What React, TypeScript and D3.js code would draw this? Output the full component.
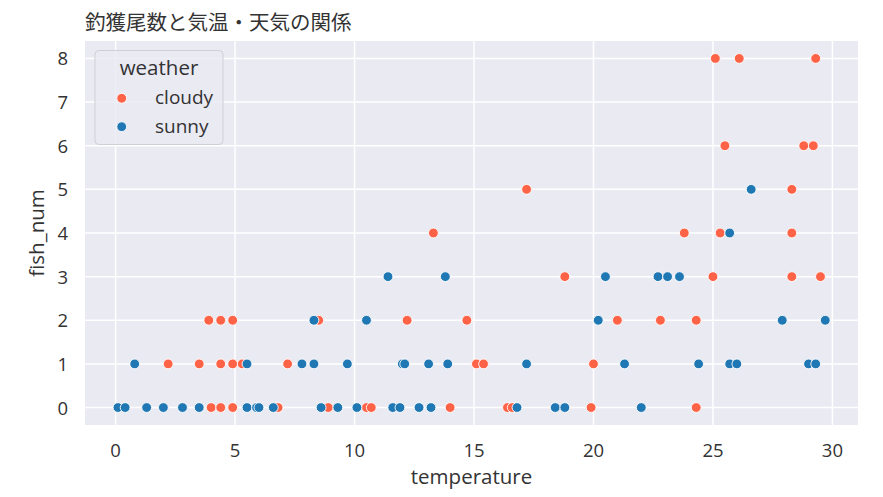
import * as d3 from 'd3';
import React, { useEffect, useRef } from 'react';

// values
const cloudyTemp = [
  25.1, 26.1, 29.3,
  25.5, 28.8, 29.2,
  17.2, 28.3,
  13.3, 23.8, 25.3, 28.3,
  18.8, 25.0, 28.3, 29.5,
  3.9, 4.4, 4.9, 8.5, 12.2, 14.7, 21.0, 22.8, 24.3,
  2.2, 3.5, 4.4, 4.9, 5.3, 7.2, 15.1, 15.4, 20.0,
  4.0, 4.4, 4.9, 6.8, 8.9, 10.5, 10.7, 14.0, 16.4, 16.6, 19.9, 24.3,
];
const cloudyFish = [
  8, 8, 8,
  6, 6, 6,
  5, 5,
  4, 4, 4, 4,
  3, 3, 3, 3,
  2, 2, 2, 2, 2, 2, 2, 2, 2,
  1, 1, 1, 1, 1, 1, 1, 1, 1,
  0, 0, 0, 0, 0, 0, 0, 0, 0, 0, 0, 0,
];
const sunnyTemp = [
  26.6,
  25.7,
  11.4, 13.8, 20.5, 22.7, 23.1, 23.6,
  8.3, 10.5, 20.2, 27.9, 29.7,
  0.8, 5.5, 7.8, 8.3, 9.7, 12.0, 12.1, 13.1, 13.9, 17.2, 21.3, 24.4, 25.7, 26.0, 29.0, 29.3,
  0.1, 0.4, 1.3, 2.0, 2.8, 3.5, 5.5, 5.9, 6.0, 6.6, 8.6, 9.3, 10.1, 11.6, 11.9, 12.7, 13.2, 16.8, 18.4, 18.8, 22.0,
];
const sunnyFish = [
  5,
  4,
  3, 3, 3, 3, 3, 3,
  2, 2, 2, 2, 2,
  1, 1, 1, 1, 1, 1, 1, 1, 1, 1, 1, 1, 1, 1, 1, 1,
  0, 0, 0, 0, 0, 0, 0, 0, 0, 0, 0, 0, 0, 0, 0, 0, 0, 0, 0, 0, 0,
];

const weatherNames = ['cloudy', 'sunny'];
const xTicks = [0, 5, 10, 15, 20, 25, 30];
const yTicks = [0, 1, 2, 3, 4, 5, 6, 7, 8];

export default function App() {
  const svgRef = useRef<SVGSVGElement | null>(null);

  const width = 883;
  const height = 497;
  const plotLeft = 85;
  const plotRight = 858;
  const plotTop = 41;
  const plotBottom = 425;
  const latin = "'Open Sans', 'DejaVu Sans', sans-serif";
  const textColor = '#333333';

  useEffect(() => {
    const x = d3.scaleLinear().domain([-1.28, 31.07]).range([plotLeft, plotRight]);
    const y = d3.scaleLinear().domain([-0.4, 8.4]).range([plotBottom, plotTop]);
    const color = d3.scaleOrdinal<string, string>()
      .domain(weatherNames)
      .range(['#ff6347', '#1f77b4']);

    const svg = d3.select(svgRef.current)
      .attr('width', width)
      .attr('height', height)
      .attr('viewBox', `0 0 ${width} ${height}`);

    svg.selectAll('*').remove();

    // axes background
    svg.append('rect')
      .attr('x', plotLeft)
      .attr('y', plotTop)
      .attr('width', plotRight - plotLeft)
      .attr('height', plotBottom - plotTop)
      .attr('fill', '#eaeaf2');

    // grid
    svg.append('g')
      .selectAll('line')
      .data(xTicks)
      .join('line')
      .attr('x1', d => x(d)).attr('x2', d => x(d))
      .attr('y1', plotTop).attr('y2', plotBottom)
      .attr('stroke', '#ffffff').attr('stroke-width', 1.5);

    svg.append('g')
      .selectAll('line')
      .data(yTicks)
      .join('line')
      .attr('x1', plotLeft).attr('x2', plotRight)
      .attr('y1', d => y(d)).attr('y2', d => y(d))
      .attr('stroke', '#ffffff').attr('stroke-width', 1.5);

    // tick labels
    svg.append('g')
      .selectAll('text')
      .data(xTicks)
      .join('text')
      .attr('x', d => x(d))
      .attr('y', 457)
      .attr('text-anchor', 'middle')
      .attr('font-family', latin)
      .attr('font-size', 18.5)
      .attr('fill', textColor)
      .text(d => d);

    svg.append('g')
      .selectAll('text')
      .data(yTicks)
      .join('text')
      .attr('x', 68)
      .attr('y', d => y(d) + 7)
      .attr('text-anchor', 'end')
      .attr('font-family', latin)
      .attr('font-size', 18.5)
      .attr('fill', textColor)
      .text(d => d);

    // axis labels and title
    svg.append('text')
      .attr('x', (plotLeft + plotRight) / 2)
      .attr('y', 484)
      .attr('text-anchor', 'middle')
      .attr('font-family', latin)
      .attr('font-size', 20.5)
      .attr('fill', textColor)
      .text('temperature');

    svg.append('text')
      .attr('transform', `translate(44,${(plotTop + plotBottom) / 2}) rotate(-90)`)
      .attr('text-anchor', 'middle')
      .attr('font-family', latin)
      .attr('font-size', 20.5)
      .attr('fill', textColor)
      .text('fish_num');

    svg.append('text')
      .attr('x', plotLeft)
      .attr('y', 30)
      .attr('font-family', "'Noto Sans CJK JP', sans-serif")
      .attr('font-size', 20.5)
      .attr('fill', textColor)
      .text('釣獲尾数と気温・天気の関係');

    // points: cloudy first, sunny drawn on top
    const cloudy = cloudyTemp.map((t, i) => ({ t, n: cloudyFish[i], w: 'cloudy' }));
    const sunny = sunnyTemp.map((t, i) => ({ t, n: sunnyFish[i], w: 'sunny' }));

    svg.append('g')
      .selectAll('circle')
      .data([...cloudy, ...sunny])
      .join('circle')
      .attr('cx', d => x(d.t))
      .attr('cy', d => y(d.n))
      .attr('r', 4.9)
      .attr('fill', d => color(d.w))
      .attr('stroke', '#ffffff')
      .attr('stroke-width', 0.9);

    // legend
    const legend = svg.append('g');
    legend.append('rect')
      .attr('x', 95).attr('y', 50.5)
      .attr('width', 128).attr('height', 94)
      .attr('rx', 4)
      .attr('fill', '#eaeaf2').attr('fill-opacity', 0.8)
      .attr('stroke', '#cfcfd6').attr('stroke-width', 1);

    legend.append('text')
      .attr('x', 159).attr('y', 75)
      .attr('text-anchor', 'middle')
      .attr('font-family', latin)
      .attr('font-size', 20.5)
      .attr('fill', textColor)
      .text('weather');

    const items = legend.selectAll('g.item')
      .data(weatherNames)
      .join('g')
      .attr('class', 'item')
      .attr('transform', (_d, i) => `translate(0,${98.3 + i * 28.4})`);

    items.append('circle')
      .attr('cx', 121.7).attr('cy', 0)
      .attr('r', 4.9)
      .attr('fill', d => color(d))
      .attr('stroke', '#ffffff').attr('stroke-width', 0.9);

    items.append('text')
      .attr('x', 155).attr('y', 6)
      .attr('font-family', latin)
      .attr('font-size', 19)
      .attr('fill', textColor)
      .text(d => d);
  }, []);

  return (
    <svg ref={svgRef} style={{ position: 'absolute', left: 0, top: 0 }}></svg>
  );
}
